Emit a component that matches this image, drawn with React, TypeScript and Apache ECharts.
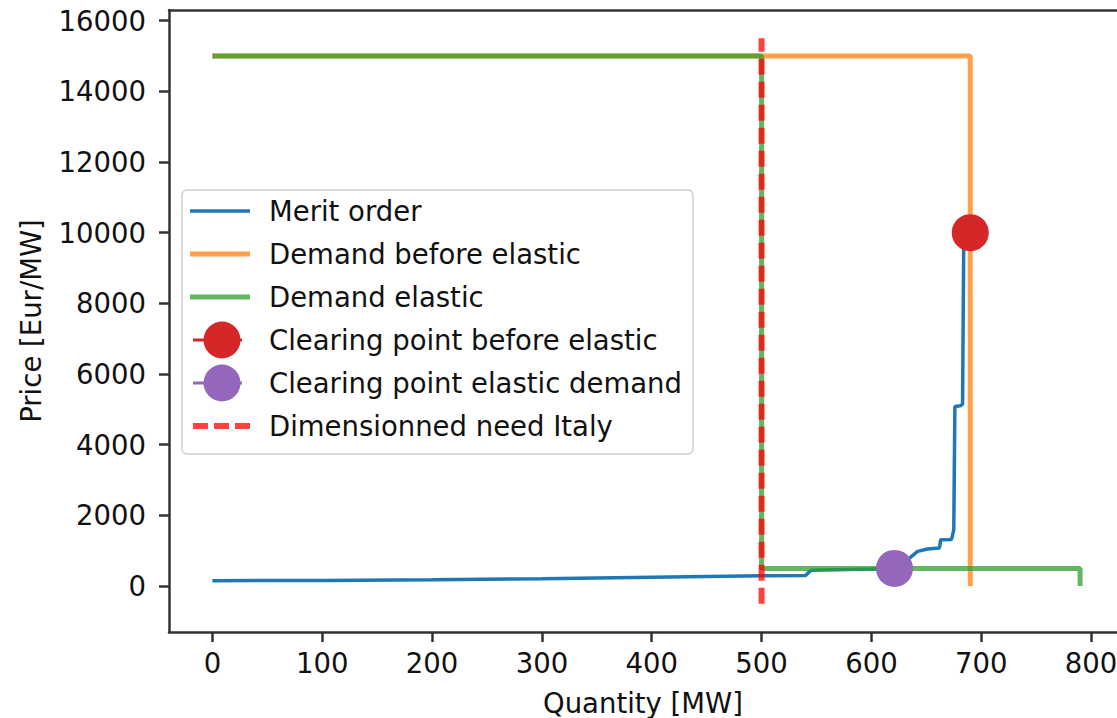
import React, { useEffect, useRef } from "react";
import * as echarts from "echarts";

// ---- data ----
const meritQty = [0, 100, 200, 300, 400, 500, 540, 545, 600, 625, 635, 642, 651, 662, 663, 673, 675, 676, 681, 683, 684, 688];
const meritPrice = [150, 160, 180, 210, 250, 290, 300, 450, 480, 500, 800, 980, 1050, 1080, 1310, 1320, 1600, 5080, 5100, 5150, 9500, 10000];

const demandBeforeQty = [0, 690, 690];
const demandBeforePrice = [15000, 15000, 0];

const demandElasticQty = [0, 500, 500, 790, 790];
const demandElasticPrice = [15000, 15000, 500, 500, 0];

const clearingBefore = [690, 10000];
const clearingElastic = [621, 500];

const needItalyQty = [500, 500];
const needItalyPrice = [-500, 15500];

const xTicks = [0, 100, 200, 300, 400, 500, 600, 700, 800];
const yTicks = [0, 2000, 4000, 6000, 8000, 10000, 12000, 14000, 16000];

const seriesNames = [
  "Merit order",
  "Demand before elastic",
  "Demand elastic",
  "Clearing point before elastic",
  "Clearing point elastic demand",
  "Dimensionned need Italy",
];

const zip = (a: number[], b: number[]) => a.map((v, i) => [v, b[i]]);

const FONT = "DejaVu Sans";
const FS = 27.5;
const X_MIN = -39.5;
const X_MAX = 823.6;

// legend icons drawn in a 74 x 38 box (leading M points fix the box)
const BOX = "M0 0M74 38";
const lineIcon = (w: number) =>
  `path://${BOX}M0 ${19 - w / 2}H60V${19 + w / 2}H0Z`;
const markerIcon =
  "path://" + BOX + "M3 17.5H14V20.5H3Z M50 17.5H52V20.5H50Z M13.5 19A18.5 18.5 0 1 1 50.5 19A18.5 18.5 0 1 1 13.5 19Z";
const dashIcon = "path://" + BOX + "M3 16H18V22H3Z M24 16H39V22H24Z M45 16H60V22H45Z";

export default function App() {
  const ref = useRef<HTMLDivElement>(null);
  useEffect(() => {
    if (!ref.current) return;
    const chart = echarts.init(ref.current, undefined, { renderer: "svg" });
    const blue = "#1f77b4";
    const orange = "rgba(255,127,14,0.75)";
    const green = "rgba(44,160,44,0.75)";
    const red = "#d62728";
    const purple = "#9467bd";
    const dashRed = "rgba(255,0,0,0.75)";
    const frame = { show: true, onZero: false, lineStyle: { color: "#333", width: 2.5 } };
    chart.setOption({
      animation: false,
      textStyle: { fontFamily: FONT },
      grid: {
        left: 169,
        right: 0,
        top: 10,
        bottom: 86,
        containLabel: false,
        outerBoundsMode: "none",
      },
      xAxis: [
        {
          type: "value",
          min: X_MIN,
          max: X_MAX,
          axisLine: frame,
          splitLine: { show: false },
          axisTick: {
            show: true,
            inside: false,
            length: 10,
            customValues: xTicks,
            lineStyle: { color: "#333", width: 2.5 },
          },
          axisLabel: {
            customValues: xTicks,
            fontSize: FS,
            color: "#111",
            margin: 17,
            fontFamily: FONT,
            formatter: (v: number) => String(v),
          },
          name: "Quantity [MW]",
          nameLocation: "middle",
          nameGap: 57,
          nameTextStyle: { fontSize: FS, color: "#111", fontFamily: FONT, lineHeight: 27 },
        },
        {
          type: "value",
          position: "top",
          min: X_MIN,
          max: X_MAX,
          axisLine: frame,
          axisTick: { show: false },
          axisLabel: { show: false },
          splitLine: { show: false },
        },
      ],
      yAxis: {
        type: "value",
        min: -1300,
        max: 16300,
        axisLine: frame,
        splitLine: { show: false },
        axisTick: {
          show: true,
          inside: false,
          length: 10,
          customValues: yTicks,
          lineStyle: { color: "#333", width: 2.5 },
        },
        axisLabel: {
          customValues: yTicks,
          fontSize: FS,
          color: "#111",
          margin: 23,
          fontFamily: FONT,
          formatter: (v: number) => String(v),
        },
        name: "Price [Eur/MW]",
        nameLocation: "middle",
        nameRotate: 90,
        nameGap: 124,
        nameTextStyle: { fontSize: FS, color: "#111", fontFamily: FONT },
      },
      legend: {
        orient: "vertical",
        left: 182,
        top: 190,
        itemWidth: 74,
        itemHeight: 38,
        itemGap: 5,
        padding: [2, 11, 9, 8],
        backgroundColor: "#fff",
        borderColor: "#d0d0d0",
        borderWidth: 1.5,
        borderRadius: 5,
        symbolKeepAspect: true,
        selectedMode: false,
        textStyle: { fontSize: FS, color: "#111", fontFamily: FONT, lineHeight: 38 },
        data: [
          { name: seriesNames[0], icon: lineIcon(3.5), itemStyle: { color: blue, borderWidth: 0 } },
          { name: seriesNames[1], icon: lineIcon(5), itemStyle: { color: orange, borderWidth: 0 } },
          { name: seriesNames[2], icon: lineIcon(5), itemStyle: { color: green, borderWidth: 0 } },
          { name: seriesNames[3], icon: markerIcon, itemStyle: { color: red, borderWidth: 0 } },
          { name: seriesNames[4], icon: markerIcon, itemStyle: { color: purple, borderWidth: 0 } },
          { name: seriesNames[5], icon: dashIcon, itemStyle: { color: dashRed, borderWidth: 0 } },
        ],
      },
      series: [
        {
          name: seriesNames[0],
          type: "line",
          data: zip(meritQty, meritPrice),
          showSymbol: false,
          color: blue,
          lineStyle: { color: blue, width: 3.5 },
        },
        {
          name: seriesNames[1],
          type: "line",
          data: zip(demandBeforeQty, demandBeforePrice),
          showSymbol: false,
          color: orange,
          lineStyle: { color: orange, width: 5 },
        },
        {
          name: seriesNames[2],
          type: "line",
          data: zip(demandElasticQty, demandElasticPrice),
          showSymbol: false,
          color: green,
          lineStyle: { color: green, width: 5 },
        },
        {
          name: seriesNames[3],
          type: "line",
          data: [clearingBefore],
          symbol: "circle",
          symbolSize: 37,
          showSymbol: true,
          color: red,
          itemStyle: { color: red },
          lineStyle: { color: red, width: 3 },
        },
        {
          name: seriesNames[4],
          type: "line",
          data: [clearingElastic],
          symbol: "circle",
          symbolSize: 37,
          showSymbol: true,
          color: purple,
          itemStyle: { color: purple },
          lineStyle: { color: purple, width: 3 },
        },
        {
          name: seriesNames[5],
          type: "line",
          data: zip(needItalyQty, needItalyPrice),
          showSymbol: false,
          color: dashRed,
          lineStyle: { color: dashRed, width: 6, type: [16, 7] },
        },
      ],
    });
    return () => chart.dispose();
  }, []);
  return (
    <div
      ref={ref}
      style={{ position: "fixed", left: 0, top: 0, width: 1117, height: 718, background: "#fff" }}
    />
  );
}
